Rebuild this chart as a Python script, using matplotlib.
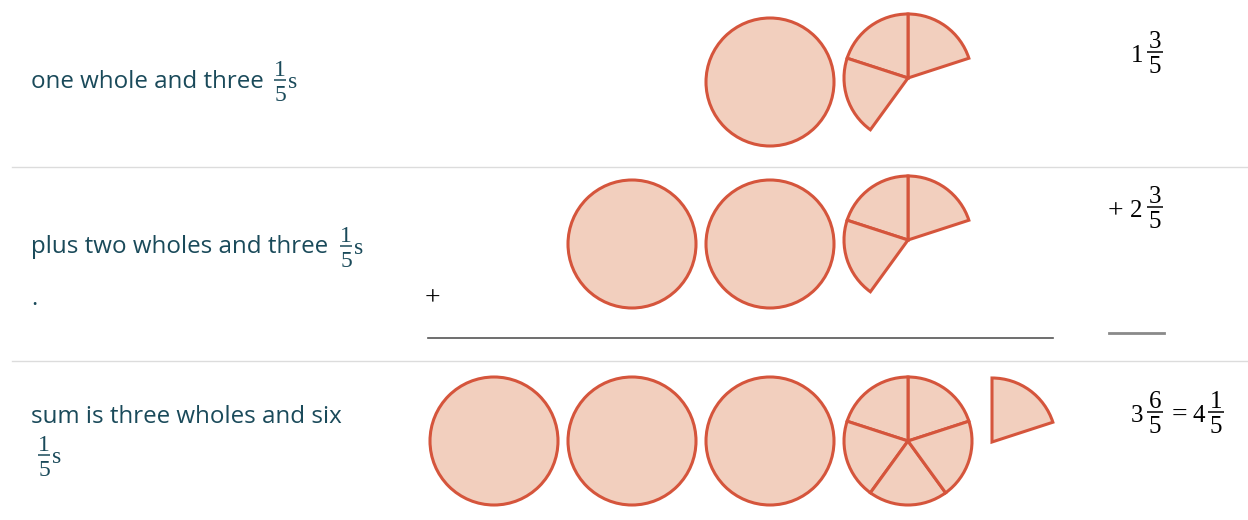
import matplotlib
matplotlib.use("Agg")
import matplotlib.pyplot as plt
from matplotlib.patches import Circle, Wedge

# ---- data ----
descriptions = ["one whole and three", "plus two wholes and three", "sum is three wholes and six"]
wholes = [1, 2, 3]
fifths = [3, 3, 6]
mixed_whole = ["1", "2", "3"]
mixed_num = ["3", "3", "6"]
mixed_den = ["5", "5", "5"]
result_whole = "4"
result_num = "1"
result_den = "5"

# ---- style ----
TEXT_C = "#1a4a5a"
FILL = "#f2cfbe"
EDGE = "#d5553c"
R = 64
SERIF = "Liberation Serif"
SANS = "Open Sans"
DIG = 18
OP = 20

fig = plt.figure(figsize=(12.48, 5.2), dpi=100)
ax = fig.add_axes([0, 0, 1, 1])
ax.set_xlim(0, 1248)
ax.set_ylim(520, 0)
ax.axis("off")

row_circle_y = [82, 244, 441]
row_pie_y = [78, 240, 441]
pie_x = 908
step = 138


def frac(x, ybar, num, den, color="black", size=DIG, w=16):
    ax.text(x, ybar - 4, num, fontsize=size, family=SERIF, color=color,
            ha="center", va="baseline")
    ax.plot([x - w / 2, x + w / 2], [ybar, ybar], color=color, lw=1.1,
            solid_capstyle="butt")
    ax.text(x, ybar + 21, den, fontsize=size, family=SERIF, color=color,
            ha="center", va="baseline")


def desc_frac(x, ybar):
    frac(x, ybar, "1", "5", color=TEXT_C, size=17, w=12)
    ax.text(x + 8, ybar + 8, "s", fontsize=17, family=SERIF, color=TEXT_C,
            ha="left", va="baseline")


# separators
for y in [167, 361]:
    ax.plot([12, 1248], [y, y], color="#dcdcdc", lw=1.0)

for i in range(3):
    cy = row_circle_y[i]
    py = row_pie_y[i]
    for k in range(1, wholes[i] + 1):
        ax.add_patch(Circle((pie_x - step * k, cy), R, facecolor=FILL,
                            edgecolor=EDGE, lw=2.2))
    n = fifths[i]
    for j in range(min(n, 5)):
        t1 = 18 + 72 * j
        t2 = 90 + 72 * j
        ax.add_patch(Wedge((pie_x, py), R, -t2, -t1, facecolor=FILL,
                           edgecolor=EDGE, lw=2.2))
    for j in range(5, n):
        t1 = 18 + 72 * (j - 5)
        t2 = 90 + 72 * (j - 5)
        ax.add_patch(Wedge((pie_x + 84, py + 1), R, -t2, -t1, facecolor=FILL,
                           edgecolor=EDGE, lw=2.2))

# descriptions
TS = 17.4
ax.text(31, 88, descriptions[0], fontsize=TS, family=SANS, color=TEXT_C,
        ha="left", va="baseline")
desc_frac(280, 80)
ax.text(31, 253, descriptions[1], fontsize=TS, family=SANS, color=TEXT_C,
        ha="left", va="baseline")
desc_frac(346, 246)
ax.text(31, 305, ".", fontsize=TS, family=SANS, color=TEXT_C,
        ha="left", va="baseline")
ax.text(31, 423, descriptions[2], fontsize=TS, family=SANS, color=TEXT_C,
        ha="left", va="baseline")
desc_frac(44, 455)

# plus sign and rules
ax.text(432, 305, "+", fontsize=OP, family=SERIF, color="black",
        ha="center", va="baseline")
ax.plot([428, 1053], [338, 338], color="#555555", lw=1.2)
ax.plot([1109, 1164], [333, 333], color="#8a8a8a", lw=2.0)

# right column
ax.text(1137, 62, mixed_whole[0], fontsize=DIG, family=SERIF, color="black",
        ha="center", va="baseline")
frac(1155, 52, mixed_num[0], mixed_den[0])
ax.text(1115, 218, "+", fontsize=OP, family=SERIF, color="black",
        ha="center", va="baseline")
ax.text(1136, 217, mixed_whole[1], fontsize=DIG, family=SERIF, color="black",
        ha="center", va="baseline")
frac(1155, 207, mixed_num[1], mixed_den[1])
ax.text(1137, 422, mixed_whole[2], fontsize=DIG, family=SERIF, color="black",
        ha="center", va="baseline")
frac(1155, 412, mixed_num[2], mixed_den[2])
ax.text(1179, 422, "=", fontsize=OP, family=SERIF, color="black",
        ha="center", va="baseline")
ax.text(1199, 422, result_whole, fontsize=DIG, family=SERIF, color="black",
        ha="center", va="baseline")
frac(1216, 412, result_num, result_den)

fig.savefig("out.png", dpi=100, facecolor="white")
